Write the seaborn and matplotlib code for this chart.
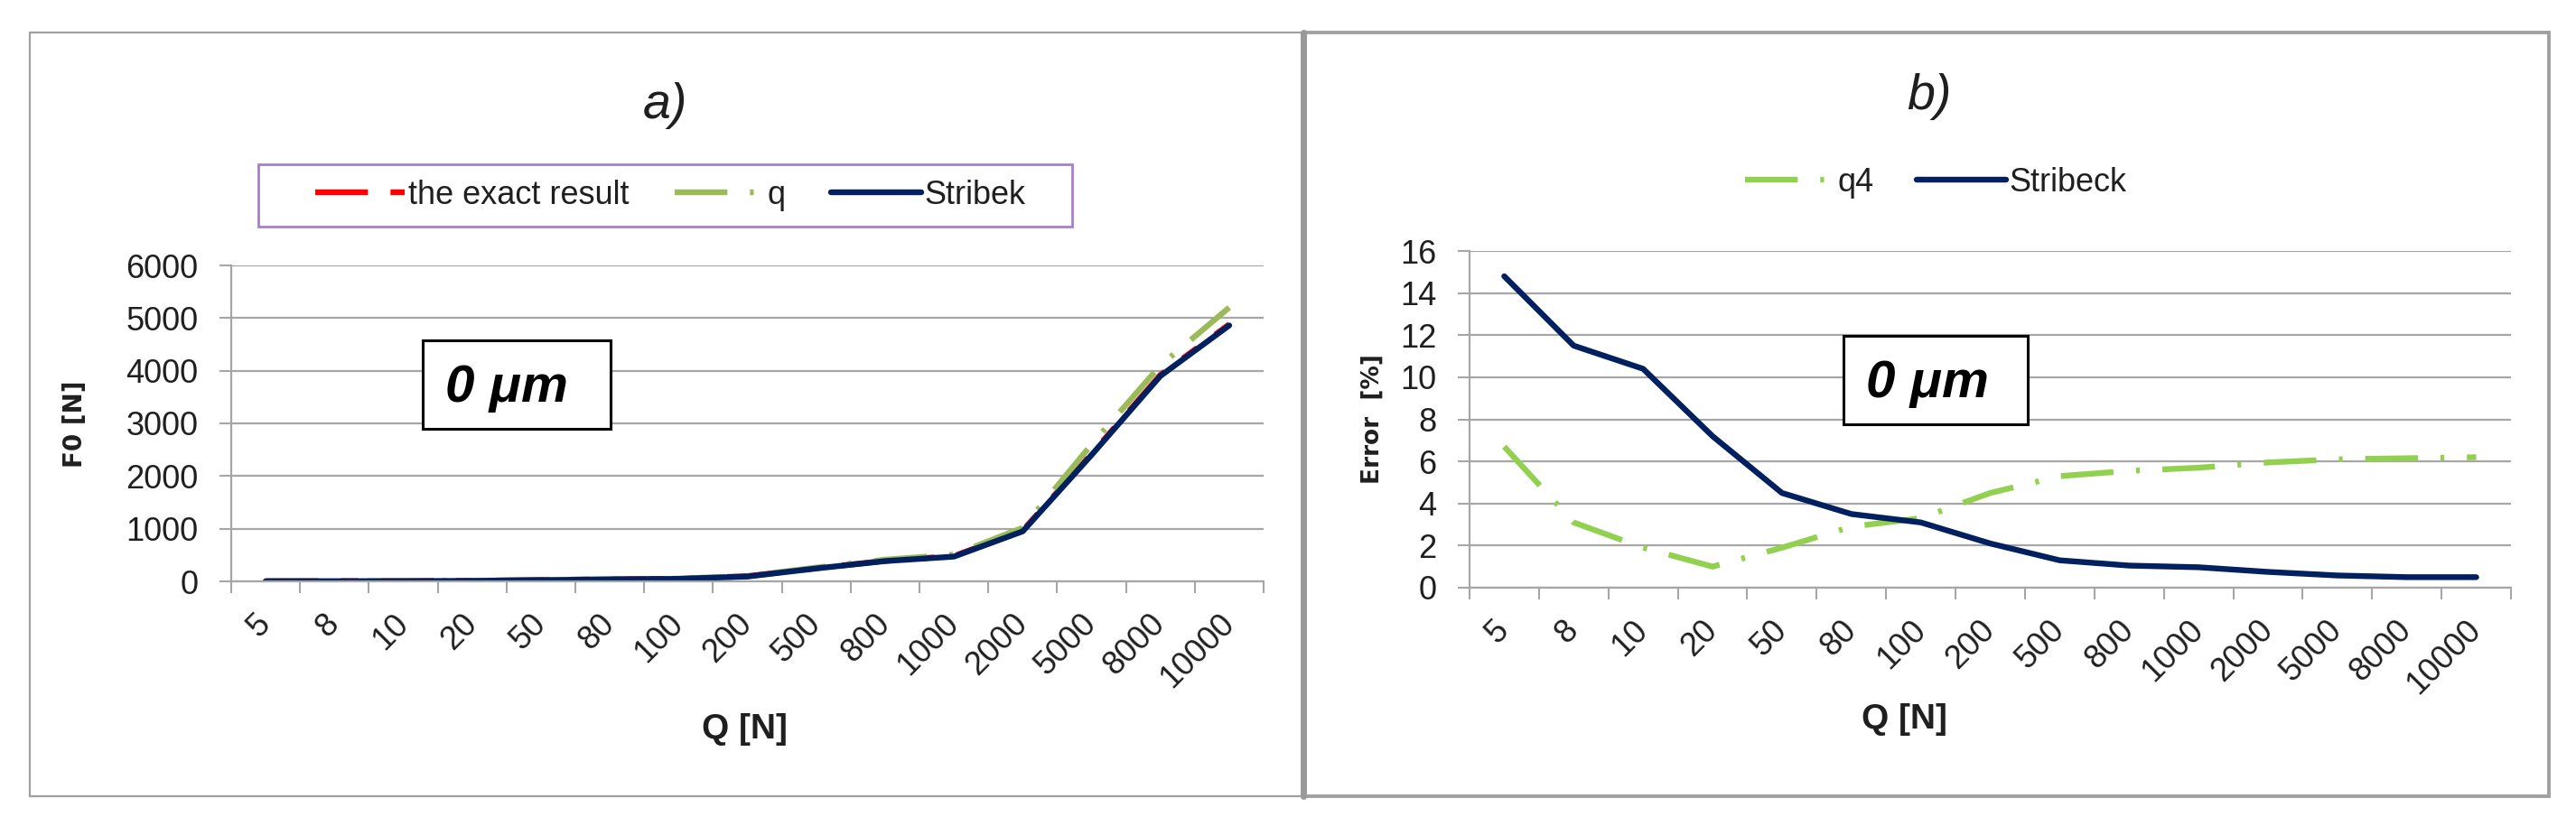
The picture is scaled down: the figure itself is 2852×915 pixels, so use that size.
import numpy as np
import pandas as pd
import matplotlib
matplotlib.use("Agg")
import matplotlib.pyplot as plt
import seaborn as sns
from matplotlib.lines import Line2D
from matplotlib.patches import Rectangle
from matplotlib import font_manager

# ---------------- data ----------------
categories = ["5", "8", "10", "20", "50", "80", "100", "200", "500",
              "800", "1000", "2000", "5000", "8000", "10000"]

# panel a) F0 [N]
f0_exact = [2.8, 4.4, 5.4, 10.5, 25.5, 40, 50, 98, 250, 390, 480, 965, 2420, 3920, 4880]
f0_q = [3.0, 4.5, 5.5, 10.6, 26, 41, 52, 102, 262, 412, 508, 1017, 2600, 4100, 5200]
f0_stribek = [2.4, 3.9, 4.8, 9.5, 24, 38, 48, 92, 245, 385, 470, 950, 2400, 3900, 4860]

# panel b) Error [%]
err_q4 = [6.7, 3.1, 1.9, 1.0, 1.9, 2.9, 3.3, 4.5, 5.3, 5.55, 5.7, 5.95, 6.1, 6.15, 6.2]
err_stribeck = [14.8, 11.5, 10.4, 7.2, 4.5, 3.5, 3.1, 2.1, 1.3, 1.05, 0.97, 0.75, 0.58, 0.5, 0.5]

# ---------------- style ----------------
sns.set_theme(style="white")
names = {f.name for f in font_manager.fontManager.ttflist}
NARROW = "Liberation Sans Narrow" if "Liberation Sans Narrow" in names else "Liberation Sans"
plt.rcParams["font.family"] = [NARROW, "DejaVu Sans"]
plt.rcParams["lines.scale_dashes"] = False
plt.rcParams["axes.unicode_minus"] = False

RED = "#FF0000"
GREEN_A = "#9BBB59"
GREEN_B = "#92D050"
NAVY = "#002060"
GRID = "#A6A6A6"
TXT = "#1F1F1F"
LW = 4.6
DASH_RED = (42, 18, 14, 18)
DASH_GREEN = (42, 18, 3, 18)

W, H = 2852, 915
fig = plt.figure(figsize=(W / 100, H / 100), dpi=100)


def fx(px):
    return px / W


def fy(py):
    return 1 - py / H


# panel frames
fig.add_artist(Rectangle((fx(33), fy(882)), fx(1443) - fx(33), fy(36) - fy(882),
                         transform=fig.transFigure, fill=False, ec="#A0A0A0", lw=1.6))
fig.add_artist(Rectangle((fx(1443), fy(882)), fx(2822) - fx(1443), fy(36) - fy(882),
                         transform=fig.transFigure, fill=False, ec="#A0A0A0", lw=2.8))
fig.add_artist(Line2D([fx(1443), fx(1443)], [fy(882), fy(36)], transform=fig.transFigure,
                      color="#999999", lw=5))

pos = np.arange(len(categories))


def style_axes(ax, ymax, ystep):
    ax.set_xlim(-0.5, len(categories) - 0.5)
    ax.set_ylim(0, ymax)
    ax.set_yticks(np.arange(0, ymax + ystep / 2, ystep))
    ax.set_xticks(pos)
    ax.set_xticklabels(categories)
    ax.set_xticks(np.arange(-0.5, len(categories)), minor=True)
    ax.grid(axis="y", color=GRID, lw=1.6)
    ax.grid(axis="x", visible=False)
    ax.set_axisbelow(True)
    for s in ["top", "right"]:
        ax.spines[s].set_visible(False)
    for s in ["left", "bottom"]:
        ax.spines[s].set_color(GRID)
        ax.spines[s].set_linewidth(1.6)
    ax.tick_params(axis="x", which="major", length=0, pad=30, labelsize=26, labelcolor=TXT)
    ax.tick_params(axis="x", which="minor", length=9.5, width=1.5, color=GRID, direction="out",
                   bottom=True)
    ax.tick_params(axis="y", which="major", length=9.5, width=1.5, color=GRID, direction="out",
                   left=True, pad=17, labelsize=26, labelcolor=TXT)
    for lab in ax.get_xticklabels():
        lab.set_rotation(45)
        lab.set_ha("right")
        lab.set_va("center")
        lab.set_rotation_mode("anchor")
    ax.set_xlabel("")
    ax.set_ylabel("")


# ---------------- panel a ----------------
ax1 = fig.add_axes([fx(256), fy(644), fx(1399) - fx(256), fy(294) - fy(644)])
dfa = pd.DataFrame({"pos": pos, "exact": f0_exact, "q": f0_q, "stribek": f0_stribek})
sns.lineplot(data=dfa, x="pos", y="exact", ax=ax1, color=RED, lw=LW, estimator=None, sort=False)
ax1.lines[-1].set_dashes(DASH_RED)
sns.lineplot(data=dfa, x="pos", y="q", ax=ax1, color=GREEN_A, lw=LW, estimator=None, sort=False)
ax1.lines[-1].set_dashes(DASH_GREEN)
sns.lineplot(data=dfa, x="pos", y="stribek", ax=ax1, color=NAVY, lw=LW, estimator=None, sort=False)
style_axes(ax1, 6000, 1000)

# ---------------- panel b ----------------
ax2 = fig.add_axes([fx(1627), fy(651), fx(2780) - fx(1627), fy(278) - fy(651)])
dfb = pd.DataFrame({"pos": pos, "q4": err_q4, "stribeck": err_stribeck})
sns.lineplot(data=dfb, x="pos", y="q4", ax=ax2, color=GREEN_B, lw=LW, estimator=None, sort=False)
ax2.lines[-1].set_dashes(DASH_GREEN)
sns.lineplot(data=dfb, x="pos", y="stribeck", ax=ax2, color=NAVY, lw=LW, estimator=None, sort=False)
style_axes(ax2, 16, 2)

# ---------------- legends ----------------
h_red = Line2D([], [], color=RED, lw=LW, dashes=DASH_RED)
h_ga = Line2D([], [], color=GREEN_A, lw=LW, dashes=DASH_GREEN)
h_gb = Line2D([], [], color=GREEN_B, lw=LW, dashes=DASH_GREEN)
h_navy = Line2D([], [], color=NAVY, lw=LW)

# legend frame of panel a
fig.add_artist(Rectangle((fx(286), fy(251)), fx(1187) - fx(286), fy(182) - fy(251),
                         transform=fig.transFigure, fill=True, fc="white", ec="#A67FCF", lw=2.0,
                         zorder=4))
leg1 = fig.legend([h_red, h_ga, h_navy], ["the exact result", "q", "Stribek"],
                  loc="center", bbox_to_anchor=(fx(742), fy(216)), ncol=3,
                  fontsize=26, handlelength=2.75, handletextpad=0.1, columnspacing=1.4,
                  frameon=False, borderaxespad=0)
leg1.set_zorder(5)
for t in leg1.get_texts():
    t.set_color(TXT)

leg2 = fig.legend([h_gb, h_navy], ["q4", "Stribeck"],
                  loc="center", bbox_to_anchor=(fx(2143), fy(202)), ncol=2,
                  fontsize=26, handlelength=2.75, handletextpad=0.1, columnspacing=1.3,
                  frameon=False, borderaxespad=0)
for t in leg2.get_texts():
    t.set_color(TXT)

# ---------------- titles & labels ----------------
fig.text(fx(736), fy(117), "a)", ha="center", va="center", fontsize=40, style="italic", color=TXT)
fig.text(fx(2136), fy(107), "b)", ha="center", va="center", fontsize=40, style="italic", color=TXT)

fig.text(fx(83), fy(470), "F0 [N]", rotation=90, ha="center", va="center", fontsize=20,
         fontweight="bold", family=["DejaVu Sans"], color=TXT)
fig.text(fx(1520), fy(464), "Error  [%]", rotation=90, ha="center", va="center", fontsize=19,
         fontweight="bold", family=["DejaVu Sans"], color=TXT)

fig.text(fx(824), fy(808), "Q [N]", ha="center", va="center", fontsize=28, fontweight="bold", color=TXT)
fig.text(fx(2108), fy(797), "Q [N]", ha="center", va="center", fontsize=28, fontweight="bold", color=TXT)

# "0 µm" boxes
for (x0, y0, x1, y1) in [(468, 377, 676, 475), (2041, 372, 2245, 470)]:
    fig.add_artist(Rectangle((fx(x0), fy(y1)), fx(x1) - fx(x0), fy(y0) - fy(y1),
                             transform=fig.transFigure, fill=True, fc="white", ec="black", lw=2.2,
                             zorder=5))
    fig.text(fx(x0 + 93), fy((y0 + y1) / 2 + 4), "0 μm", ha="center", va="center", fontsize=42,
             fontweight="bold", style="italic", color="black", zorder=6)

fig.savefig("out.png", dpi=100)
